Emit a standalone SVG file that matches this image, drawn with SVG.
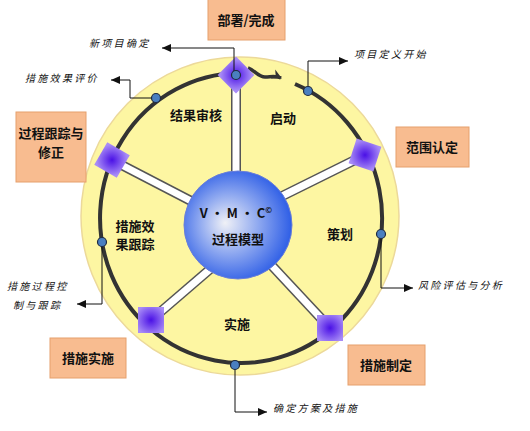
<svg xmlns="http://www.w3.org/2000/svg" width="530" height="431" viewBox="0 0 530 431">
<defs>
<style>
.box{fill:#f8bc90;stroke:#e6a06c;stroke-width:1}
.bt{font-family:"Noto Sans CJK SC","Noto Sans",sans-serif;font-size:13px;font-weight:bold;fill:#111;text-anchor:middle}
.sec{font-family:"Noto Sans CJK SC","Noto Sans",sans-serif;font-size:13px;font-weight:bold;fill:#111;text-anchor:middle}
.ann{font-family:"Noto Sans CJK SC","Noto Sans",sans-serif;font-size:10px;font-style:italic;fill:#111;letter-spacing:2.3px}
.conn{fill:none;stroke:#111;stroke-width:1}
.spokeo{stroke:#555;stroke-width:10;stroke-linecap:butt}
.spokei{stroke:#fff;stroke-width:7;stroke-linecap:butt}
.dot{fill:#4a7fc0;stroke:#1f2a40;stroke-width:1.2}
.dia{fill:url(#pg)}
</style>
<radialGradient id="pg" cx="0.5" cy="0.5" r="0.6">
<stop offset="0" stop-color="#4a10e6"/>
<stop offset="1" stop-color="#a88cf6"/>
</radialGradient>
<radialGradient id="sg" cx="0.45" cy="0.5" r="0.55" fx="0.38" fy="0.48">
<stop offset="0" stop-color="#f0f1f6"/>
<stop offset="0.5" stop-color="#8ea8f0"/>
<stop offset="1" stop-color="#2e5ee6"/>
</radialGradient>
<marker id="ah" markerUnits="userSpaceOnUse" markerWidth="10" markerHeight="8" refX="9" refY="4" orient="auto">
<path d="M0,0 L9,4 L0,8 Z" fill="#111"/>
</marker>
<marker id="rh" markerUnits="userSpaceOnUse" markerWidth="12" markerHeight="12" refX="9" refY="6" orient="auto">
<path d="M0,1 L10,6 L0,11 L3,6 Z" fill="#333"/>
</marker>
</defs>
<rect width="530" height="431" fill="#fff"/>

<g id="background">
<circle cx="240" cy="216" r="159" fill="#fdf6a2" stroke="#ecd99a" stroke-width="1.5"/>
</g>

<g id="spokes">
<line class="spokeo" x1="236" y1="80" x2="236" y2="200"/>
<line class="spokei" x1="236" y1="80" x2="236" y2="200"/>
<line class="spokeo" x1="112" y1="160" x2="220" y2="216"/>
<line class="spokei" x1="112" y1="160" x2="220" y2="216"/>
<line class="spokeo" x1="365" y1="155" x2="250" y2="212"/>
<line class="spokei" x1="365" y1="155" x2="250" y2="212"/>
<line class="spokeo" x1="151" y1="320" x2="230" y2="252"/>
<line class="spokei" x1="151" y1="320" x2="230" y2="252"/>
<line class="spokeo" x1="330" y1="328" x2="246" y2="238"/>
<line class="spokei" x1="330" y1="328" x2="246" y2="238"/>
</g>

<g id="ring">
<path d="M295,84 A141,145 0 1 1 238,73" fill="none" stroke="#333" stroke-width="4"/>
<path d="M248,68 C256,71 258,77 265,77 C271,77 275,75 281,78" fill="none" stroke="#333" stroke-width="3.5" marker-end="url(#rh)"/>
</g>

<g id="center">
<circle cx="238" cy="225" r="54" fill="url(#sg)" stroke="#6a7fd8" stroke-width="1"/>
<text class="sec" x="236" y="218">V · M · C<tspan font-size="8" dy="-5">©</tspan></text>
<text class="sec" x="238" y="244">过程模型</text>
</g>

<g id="diamonds">
<rect class="dia" x="-13" y="-13" width="26" height="26" transform="translate(236,75) rotate(45)"/>
<rect class="dia" x="-13" y="-13" width="26" height="26" transform="translate(112,160) rotate(30)"/>
<rect class="dia" x="-13" y="-13" width="26" height="26" transform="translate(365,155) rotate(18)"/>
<rect class="dia" x="-13" y="-13" width="26" height="26" transform="translate(151,320)"/>
<rect class="dia" x="-13" y="-13" width="26" height="26" transform="translate(330,328)"/>
</g>

<g id="connectors">
<path class="conn" d="M234,72 V48 H162" marker-end="url(#ah)"/>
<path class="conn" d="M156,98 H130 V80 H111" marker-end="url(#ah)"/>
<path class="conn" d="M308,91 V61 H348" marker-end="url(#ah)"/>
<path class="conn" d="M381,234 V288 H413" marker-end="url(#ah)"/>
<path class="conn" d="M235,365 V412 H267" marker-end="url(#ah)"/>
<path class="conn" d="M102,242 V304 H77" marker-end="url(#ah)"/>
</g>

<g id="dots">
<circle class="dot" cx="236" cy="75" r="4.5"/>
<circle class="dot" cx="156" cy="98" r="4.5"/>
<circle class="dot" cx="308" cy="91" r="4.5"/>
<circle class="dot" cx="381" cy="234" r="4.5"/>
<circle class="dot" cx="235" cy="365" r="4.5"/>
<circle class="dot" cx="102" cy="242" r="4.5"/>
</g>

<g id="sections">
<text class="sec" x="196" y="120">结果审核</text>
<text class="sec" x="283" y="123">启动</text>
<text class="sec" x="340" y="239">策划</text>
<text class="sec" x="237" y="329">实施</text>
<text class="sec" x="135" y="231">措施效</text>
<text class="sec" x="135" y="249">果跟踪</text>
</g>

<g id="box-deploy">
<rect class="box" x="208" y="-2" width="77" height="42"/>
<text class="bt" x="246" y="25">部署/完成</text>
</g>
<g id="box-track">
<rect class="box" x="16" y="112" width="70" height="70"/>
<text class="bt" x="51" y="138">过程跟踪与</text>
<text class="bt" x="51" y="157">修正</text>
</g>
<g id="box-scope">
<rect class="box" x="396" y="127" width="73" height="40"/>
<text class="bt" x="432" y="152">范围认定</text>
</g>
<g id="box-impl">
<rect class="box" x="50" y="338" width="76" height="40"/>
<text class="bt" x="88" y="363">措施实施</text>
</g>
<g id="box-plan">
<rect class="box" x="348" y="345" width="77" height="40"/>
<text class="bt" x="386" y="370">措施制定</text>
</g>

<g id="annotations">
<text class="ann" x="89" y="47">新项目确定</text>
<text class="ann" x="25" y="82">措施效果评价</text>
<text class="ann" x="354" y="58">项目定义开始</text>
<text class="ann" x="418" y="289">风险评估与分析</text>
<text class="ann" x="273" y="412">确定方案及措施</text>
<text class="ann" x="7" y="290">措施过程控</text>
<text class="ann" x="13" y="309">制与跟踪</text>
</g>
</svg>
